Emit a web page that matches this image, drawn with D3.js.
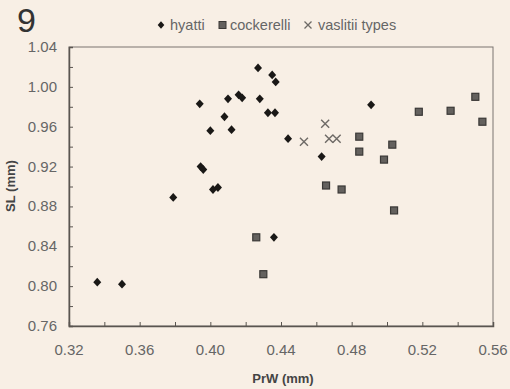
<!DOCTYPE html>
<html>
<head>
<meta charset="utf-8">
<script src="https://cdn.jsdelivr.net/npm/d3@7"></script>
<style>
  body { margin: 0; background: #f8efe5; }
  svg { display: block; font-family: "Liberation Sans", Arial, sans-serif; }
</style>
</head>
<body>
<div id="chart"></div>
<script>
// values (PrW and SL, mm)
var hyattiX = [0.336, 0.350, 0.379, 0.4015, 0.4043, 0.394, 0.400, 0.3945, 0.396, 0.427, 0.435, 0.437,
               0.416, 0.418, 0.410, 0.428, 0.4326, 0.4366, 0.408, 0.412, 0.444, 0.463, 0.491, 0.436];
var hyattiY = [0.804, 0.802, 0.889, 0.897, 0.899, 0.983, 0.956, 0.920, 0.917, 1.019, 1.012, 1.005,
               0.992, 0.989, 0.988, 0.988, 0.974, 0.974, 0.970, 0.957, 0.948, 0.930, 0.982, 0.849];

var cockX = [0.426, 0.430, 0.4655, 0.4743, 0.504, 0.518, 0.536, 0.554, 0.550, 0.4843, 0.4843, 0.503, 0.4983];
var cockY = [0.849, 0.812, 0.901, 0.897, 0.876, 0.975, 0.976, 0.965, 0.990, 0.950, 0.935, 0.942, 0.927];

var vasX = [0.465, 0.453, 0.4672, 0.4715];
var vasY = [0.963, 0.945, 0.948, 0.948];

var xTicks = [0.32, 0.36, 0.40, 0.44, 0.48, 0.52, 0.56];
var yTicks = [0.76, 0.80, 0.84, 0.88, 0.92, 0.96, 1.00, 1.04];
var legendLabels = ["hyatti", "cockerelli", "vaslitii types"];

var width = 510, height = 389;
var margin = {top: 47, right: 17, bottom: 63, left: 69};

var svg = d3.select("#chart").append("svg")
    .attr("width", width)
    .attr("height", height);

var x = d3.scaleLinear().domain([0.32, 0.56]).range([margin.left, width - margin.right]);
var y = d3.scaleLinear().domain([0.76, 1.04]).range([height - margin.bottom, margin.top]);

var axisColor = "#5a5550";
var textColor = "#666";

// frame
svg.append("rect")
    .attr("x", x(0.32)).attr("y", y(1.04))
    .attr("width", x(0.56) - x(0.32)).attr("height", y(0.76) - y(1.04))
    .attr("fill", "none").attr("stroke", "#7a7570").attr("stroke-width", 1);

// axes with inward ticks every 0.02
var xAxis = d3.axisBottom(x)
    .tickValues(d3.range(0.32, 0.5601, 0.02))
    .tickSize(-4).tickFormat("");
svg.append("g").attr("transform", "translate(0," + y(0.76) + ")").call(xAxis)
    .call(g => g.select(".domain").attr("stroke", axisColor).attr("stroke-width", 1.5))
    .call(g => g.selectAll(".tick line").attr("stroke", axisColor));

var yAxis = d3.axisLeft(y)
    .tickValues(d3.range(0.76, 1.0401, 0.02))
    .tickSize(-4).tickFormat("");
svg.append("g").attr("transform", "translate(" + x(0.32) + ",0)").call(yAxis)
    .call(g => g.select(".domain").attr("stroke", axisColor).attr("stroke-width", 1.5))
    .call(g => g.selectAll(".tick line").attr("stroke", axisColor));

// tick labels
svg.selectAll(".xlab").data(xTicks).enter().append("text")
    .attr("x", d => x(d)).attr("y", 355)
    .attr("text-anchor", "middle")
    .attr("font-size", 15).attr("fill", textColor)
    .text(d => d3.format(".2f")(d));

svg.selectAll(".ylab").data(yTicks).enter().append("text")
    .attr("x", 57).attr("y", d => y(d) + 5)
    .attr("text-anchor", "end")
    .attr("font-size", 15).attr("fill", textColor)
    .text(d => d3.format(".2f")(d));

// axis titles
svg.append("text")
    .attr("x", 283).attr("y", 383)
    .attr("text-anchor", "middle")
    .attr("font-size", 13).attr("font-weight", "bold").attr("fill", "#444")
    .text("PrW (mm)");

svg.append("text")
    .attr("transform", "translate(15,186) rotate(-90)")
    .attr("text-anchor", "middle")
    .attr("font-size", 13).attr("font-weight", "bold").attr("fill", "#444")
    .text("SL (mm)");

// panel number
svg.append("text")
    .attr("x", 17).attr("y", 32)
    .attr("font-size", 34).attr("fill", "#333")
    .text("9");

// marker shapes
var diamond = function(cx, cy, r) {
  return "M" + cx + "," + (cy - r * 1.1) + "L" + (cx + r) + "," + cy +
         "L" + cx + "," + (cy + r * 1.1) + "L" + (cx - r) + "," + cy + "Z";
};
var cross = function(cx, cy, r) {
  return "M" + (cx - r) + "," + (cy - r) + "L" + (cx + r) + "," + (cy + r) +
         "M" + (cx - r) + "," + (cy + r) + "L" + (cx + r) + "," + (cy - r);
};

var hyatti = hyattiX.map((v, i) => ({x: v, y: hyattiY[i]}));
var cock = cockX.map((v, i) => ({x: v, y: cockY[i]}));
var vas = vasX.map((v, i) => ({x: v, y: vasY[i]}));

svg.selectAll(".sq").data(cock).enter().append("rect")
    .attr("x", d => x(d.x) - 3.5).attr("y", d => y(d.y) - 3.5)
    .attr("width", 7).attr("height", 7)
    .attr("fill", "#64615e").attr("stroke", "#3a3836").attr("stroke-width", 1.2);

svg.selectAll(".cr").data(vas).enter().append("path")
    .attr("d", d => cross(x(d.x), y(d.y), 4))
    .attr("stroke", "#6e6a66").attr("stroke-width", 1.4).attr("fill", "none");

svg.selectAll(".dm").data(hyatti).enter().append("path")
    .attr("d", d => diamond(x(d.x), y(d.y), 4))
    .attr("fill", "#1a1816");

// legend
var lg = svg.append("g").attr("font-size", 14.5).attr("fill", textColor);
lg.append("path").attr("d", diamond(161, 25, 3.3)).attr("fill", "#1a1816");
lg.append("text").attr("x", 170).attr("y", 30).text(legendLabels[0]);
lg.append("rect").attr("x", 219).attr("y", 21.5).attr("width", 7).attr("height", 7)
    .attr("fill", "#64615e").attr("stroke", "#3a3836");
lg.append("text").attr("x", 230).attr("y", 30).text(legendLabels[1]);
lg.append("path").attr("d", cross(308, 25, 3.5))
    .attr("stroke", "#6e6a66").attr("stroke-width", 1.3).attr("fill", "none");
lg.append("text").attr("x", 318).attr("y", 30).text(legendLabels[2]);
</script>
</body>
</html>
